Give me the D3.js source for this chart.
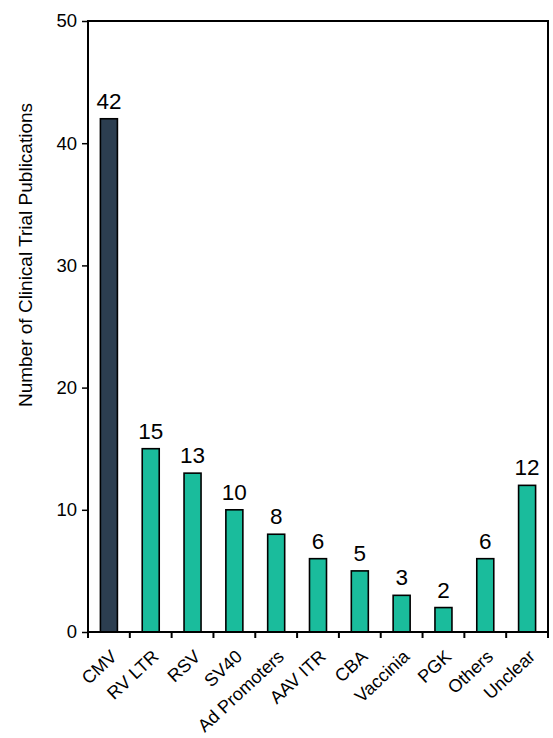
<!DOCTYPE html>
<html>
<head>
<meta charset="utf-8">
<style>
  body { margin: 0; background: #fff; }
  svg { display: block; font-family: "Liberation Sans", Arial, sans-serif; }
</style>
</head>
<body>
<svg width="553" height="738"></svg>
<script src="https://d3js.org/d3.v7.min.js"></script>
<script>

// chart data
var categories = ["CMV", "RV LTR", "RSV", "SV40", "Ad Promoters", "AAV ITR", "CBA", "Vaccinia", "PGK", "Others", "Unclear"];
var counts = [42, 15, 13, 10, 8, 6, 5, 3, 2, 6, 12];
var yTicks = [0, 10, 20, 30, 40, 50];
var yTitle = "Number of Clinical Trial Publications";

var svg = d3.select("svg");
var plotLeft = 88, plotRight = 548, plotTop = 21, plotBottom = 632;

var x = d3.scaleBand().domain(categories).range([plotLeft, plotRight]).paddingInner(0).paddingOuter(0);
var y = d3.scaleLinear().domain([0, 50]).range([plotBottom, plotTop]);
var barW = 17;

// y axis
var yAxis = svg.append("g")
    .attr("transform", "translate(" + plotLeft + ",0)")
    .call(d3.axisLeft(y).tickValues(yTicks).tickSize(6).tickPadding(5));
yAxis.select(".domain").remove();
yAxis.selectAll("line").attr("stroke", "#000").attr("stroke-width", 1.5);
yAxis.selectAll("text").attr("font-size", 18.5).attr("fill", "#000")
    .attr("font-family", "Liberation Sans, Arial, sans-serif");

// x ticks at category boundaries
var bounds = categories.map(function(c){ return x(c); }).concat([plotRight]);
svg.append("g").selectAll("line").data(bounds).enter().append("line")
    .attr("x1", function(d){ return d; }).attr("x2", function(d){ return d; })
    .attr("y1", plotBottom).attr("y2", plotBottom + 6)
    .attr("stroke", "#000").attr("stroke-width", 2);

// bars
svg.append("g").selectAll("rect").data(counts).enter().append("rect")
    .attr("x", function(d, i){ return x(categories[i]) + x.bandwidth() / 2 - barW / 2; })
    .attr("y", function(d){ return y(d); })
    .attr("width", barW)
    .attr("height", function(d){ return plotBottom - y(d); })
    .attr("fill", function(d, i){ return i === 0 ? "#2c3e50" : "#1abc9c"; })
    .attr("stroke", "#000").attr("stroke-width", 1.6);

// value labels
svg.append("g").selectAll("text").data(counts).enter().append("text")
    .attr("x", function(d, i){ return x(categories[i]) + x.bandwidth() / 2; })
    .attr("y", function(d){ return y(d) - 10; })
    .attr("text-anchor", "middle")
    .attr("font-size", 22.5)
    .text(function(d){ return d; });

// frame
svg.append("rect")
    .attr("x", plotLeft).attr("y", plotTop)
    .attr("width", plotRight - plotLeft).attr("height", plotBottom - plotTop)
    .attr("fill", "none").attr("stroke", "#000").attr("stroke-width", 2);

// category labels
svg.append("g").selectAll("text").data(categories).enter().append("text")
    .attr("transform", function(d){
      return "translate(" + (x(d) + x.bandwidth() / 2 + 9) + "," + (plotBottom + 26) + ") rotate(-43)";
    })
    .attr("text-anchor", "end")
    .attr("font-size", 18)
    .text(function(d){ return d; });

// y title
svg.append("text")
    .attr("transform", "translate(32,255) rotate(-90)")
    .attr("text-anchor", "middle")
    .attr("font-size", 19)
    .text(yTitle);

</script>
</body>
</html>
